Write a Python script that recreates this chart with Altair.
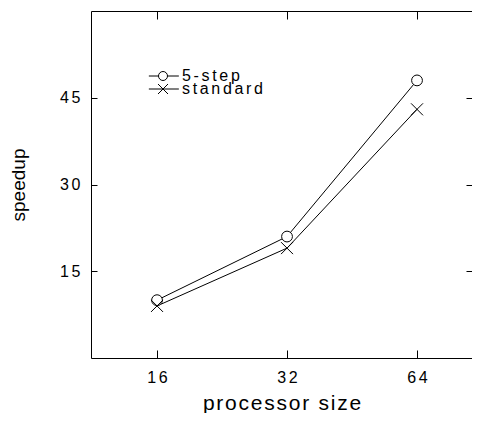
import altair as alt
import pandas as pd

# ---- data ----
sizes = [16, 32, 64]
five_step = [10, 21, 48]
standard = [9, 19, 43]
series_names = ["5-step", "standard"]
x_ticks = [16, 32, 64]
y_ticks = [15, 30, 45]

rows = []
for s, v in zip(sizes, five_step):
    rows.append({"size": s, "speedup": v, "series": "5-step"})
for s, v in zip(sizes, standard):
    rows.append({"size": s, "speedup": v, "series": "standard"})
df = pd.DataFrame(rows)

W, H = 381, 347
FONT = "Liberation Sans"
SIXSP = "\u2006"
HAIR = "\u200a"

xscale = alt.Scale(type="log", base=2, domain=[2 ** 3.492, 2 ** 6.423])
yscale = alt.Scale(domain=[0, 60])

label_expr = "join(split(datum.label, ''), '" + SIXSP + "')"

x_bottom = alt.X(
    "size:Q", scale=xscale,
    axis=alt.Axis(orient="bottom", values=x_ticks, format="d", offset=-8, tickSize=8,
                  domain=False, grid=False, labelPadding=11, labelExpr=label_expr,
                  title=HAIR.join("processor size"), titleY=59, titleBaseline="alphabetic",
                  titleFontSize=21))
y_left = alt.Y(
    "speedup:Q", scale=yscale,
    axis=alt.Axis(orient="left", values=y_ticks, offset=-6, tickSize=6,
                  domain=False, grid=False, labelPadding=11, labelExpr=label_expr,
                  title="speedup", titleX=-73, titleY=H / 2, titleBaseline="alphabetic",
                  titleFontSize=19))
x_top = alt.X("size:Q", scale=xscale,
              axis=alt.Axis(orient="top", values=x_ticks, offset=-8, tickSize=8,
                            domain=False, grid=False, labels=False, title=None))
y_right = alt.Y("speedup:Q", scale=yscale,
                axis=alt.Axis(orient="right", values=y_ticks, offset=-6, tickSize=6,
                              domain=False, grid=False, labels=False, title=None))

lines = alt.Chart(df).mark_line(color="black", strokeWidth=1).encode(
    x=x_bottom, y=y_left, detail="series:N")

CIRCLE = "M-0.9,0A0.9,0.9,0,1,1,0.9,0A0.9,0.9,0,1,1,-0.9,0Z"
XMARK = "M-1,-1L1,1M-1,1L1,-1"
points = alt.Chart(df).mark_point(filled=True, fill="white", stroke="black",
                                  strokeWidth=1, size=144, opacity=1).encode(
    x=x_top, y=y_right,
    shape=alt.Shape("series:N", scale=alt.Scale(domain=series_names, range=[CIRCLE, XMARK]),
                    legend=None))

LEG_CIRCLE = "M-2.83,0H-0.9M0.9,0H3.17" + CIRCLE
LEG_X = "M-2.83,0H3.17" + XMARK


def legend_entry(name, path, ly):
    return alt.Chart(df).transform_filter("datum.speedup < 0").mark_point(
        filled=False, stroke="black", strokeWidth=1, size=144, opacity=1).encode(
        x=alt.X("size:Q", scale=xscale, axis=None),
        y=alt.Y("speedup:Q", scale=yscale, axis=None),
        shape=alt.Shape("series:N", scale=alt.Scale(domain=[name], range=[path]),
                        legend=alt.Legend(orient="none", legendX=64, legendY=ly, title=None,
                                          labelExpr="join(split(datum.label, ''), '" + SIXSP + "')",
                                          labelOffset=11, padding=0,
                                          symbolStrokeColor="black", symbolStrokeWidth=1,
                                          symbolOpacity=1)))


leg1 = legend_entry(series_names[0], LEG_CIRCLE, 57)
leg2 = legend_entry(series_names[1], LEG_X, 70)

chart = alt.layer(lines, points, leg1, leg2).resolve_scale(
    shape="independent").resolve_axis(x="independent", y="independent").properties(
    width=W, height=H,
    autosize=alt.AutoSizeParams(type="none"),
    padding={"left": 83, "top": 3, "right": 0, "bottom": 55},
).configure_view(stroke="black", strokeWidth=1).configure_axis(
    labelFont=FONT, titleFont=FONT, labelFontSize=16, titleFontSize=20,
    labelColor="black", titleColor="black", tickColor="black", tickWidth=1,
    titleFontWeight="normal",
).configure_legend(
    labelFont=FONT, labelFontSize=16, labelColor="black",
)

chart.save("out.html", embed_options={"renderer": "svg", "actions": False})
